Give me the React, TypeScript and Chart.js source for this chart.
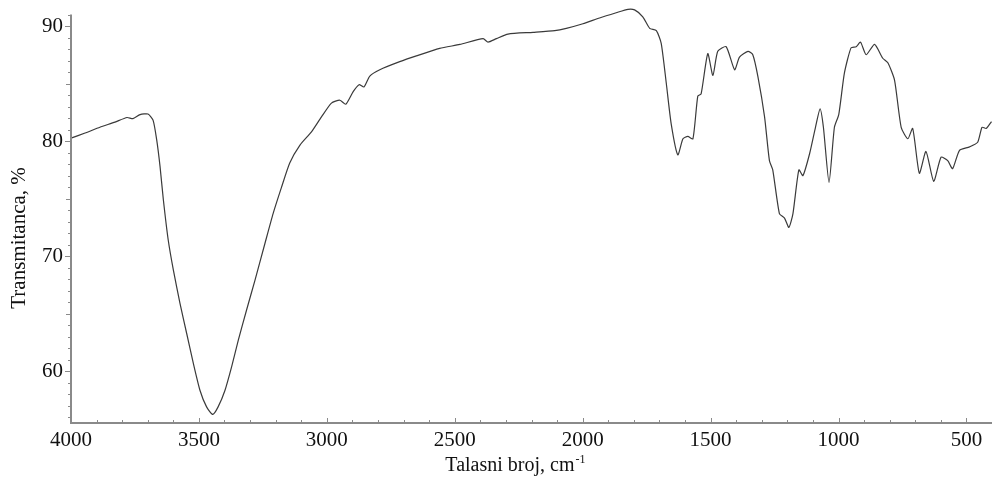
import React, { useEffect, useRef } from "react";
import { Chart, registerables } from "chart.js";

Chart.register(...registerables);

const WAVENUMBER: number[] = [
  4000, 3945, 3887, 3828, 3781, 3758, 3730, 3699, 3679, 3665, 3652, 3639, 3620, 3600, 3574, 3548,
  3522, 3496, 3470, 3446, 3425, 3398, 3372, 3346, 3314, 3281, 3242, 3210, 3177, 3145, 3105, 3060,
  3021, 2982, 2949, 2926, 2897, 2874, 2855, 2832, 2793, 2715, 2650, 2559, 2480, 2389, 2370, 2337,
  2292, 2194, 2109, 2064, 1999, 1934, 1869, 1823, 1797, 1765, 1738, 1712, 1693, 1673, 1654, 1628,
  1608, 1589, 1569, 1550, 1537, 1511, 1491, 1472, 1439, 1406, 1387, 1354, 1335, 1315, 1289, 1270,
  1257, 1231, 1211, 1194, 1178, 1155, 1139, 1113, 1090, 1072, 1059, 1037, 1016, 999, 977, 951,
  931, 914, 892, 859, 827, 807, 781, 755, 729, 710, 684, 658, 628, 599, 573, 554,
  527, 488, 456, 439, 423, 402,
];

const TRANSMITTANCE: number[] = [
  80.26, 80.7, 81.2, 81.65, 82.05, 81.95, 82.3, 82.35, 81.8, 80.1, 77.8, 74.9, 71.4, 68.8, 65.9, 63.3,
  60.7, 58.35, 56.9, 56.25, 56.9, 58.35, 60.4, 62.7, 65.3, 67.9, 71.1, 73.7, 76.0, 78.1, 79.65, 80.8,
  82.1, 83.3, 83.55, 83.2, 84.3, 84.9, 84.7, 85.65, 86.2, 86.9, 87.4, 88.05, 88.4, 88.9, 88.6, 88.9,
  89.3, 89.45, 89.6, 89.8, 90.2, 90.7, 91.15, 91.45, 91.4, 90.8, 89.8, 89.6, 88.5, 85.0, 81.5, 78.8,
  80.2, 80.4, 80.2, 83.9, 84.1, 87.6, 85.7, 87.8, 88.2, 86.2, 87.3, 87.8, 87.5, 85.6, 82.1, 78.3,
  77.5, 73.7, 73.3, 72.5, 73.7, 77.5, 77.0, 78.9, 81.2, 82.8, 81.2, 76.4, 81.2, 82.3, 85.9, 88.1,
  88.2, 88.6, 87.5, 88.4, 87.2, 86.8, 85.3, 81.2, 80.2, 81.1, 77.2, 79.1, 76.5, 78.6, 78.3, 77.6,
  79.2, 79.5, 79.9, 81.2, 81.1, 81.7,
];

const X_TICKS: number[] = [4000, 3500, 3000, 2500, 2000, 1500, 1000, 500];
const Y_TICKS: number[] = [60, 70, 80, 90];
const X_MIN = 400;
const X_MAX = 4000;
const Y_MIN = 55.5;
const Y_MAX = 91;

const X_TITLE = "Talasni broj, cm";
const X_TITLE_SUP = "-1";
const Y_TITLE = "Transmitanca, %";

const FONT = "'Liberation Serif', 'Times New Roman', serif";

const axesPlugin = {
  id: "spectrumAxes",
  afterDraw(chart: any) {
    const { ctx, chartArea, scales } = chart;
    const xs = scales.x;
    const ys = scales.y;
    ctx.save();
    ctx.strokeStyle = "#8a8a8a";
    ctx.lineWidth = 2;
    ctx.beginPath();
    ctx.moveTo(chartArea.left, chartArea.top);
    ctx.lineTo(chartArea.left, chartArea.bottom);
    ctx.lineTo(chartArea.right, chartArea.bottom);
    ctx.stroke();
    ctx.lineWidth = 1;
    ctx.strokeStyle = "#8a8a8a";
    ctx.beginPath();
    for (let v = X_MAX; v >= X_MIN; v -= 100) {
      const px = Math.round(xs.getPixelForValue(v)) + 0.5;
      const len = v % 500 === 0 ? 5 : 3;
      ctx.moveTo(px, chartArea.bottom);
      ctx.lineTo(px, chartArea.bottom - len);
    }
    for (let v = Math.ceil(Y_MIN); v <= Y_MAX; v += 1) {
      const py = Math.round(ys.getPixelForValue(v)) + 0.5;
      const len = v % 10 === 0 ? 6 : v % 5 === 0 ? 5 : 3;
      ctx.moveTo(chartArea.left, py);
      ctx.lineTo(chartArea.left - len, py);
    }
    ctx.stroke();

    ctx.fillStyle = "#111";
    ctx.textBaseline = "alphabetic";
    ctx.textAlign = "left";
    ctx.font = `20px ${FONT}`;
    const mainW = ctx.measureText(X_TITLE).width;
    ctx.font = `12px ${FONT}`;
    const supW = ctx.measureText(X_TITLE_SUP).width;
    const cx = chartArea.left + (chartArea.right - chartArea.left) * 0.482;
    const startX = cx - (mainW + supW) / 2;
    const baseY = chartArea.bottom + 48;
    ctx.font = `20px ${FONT}`;
    ctx.fillText(X_TITLE, startX, baseY);
    ctx.font = `12px ${FONT}`;
    ctx.fillText(X_TITLE_SUP, startX + mainW + 1, baseY - 8);

    ctx.font = `21px ${FONT}`;
    ctx.textAlign = "center";
    ctx.textBaseline = "middle";
    ctx.translate(19, chartArea.top + (chartArea.bottom - chartArea.top) * 0.547);
    ctx.rotate(-Math.PI / 2);
    ctx.fillText(Y_TITLE, 0, 0);
    ctx.restore();
  },
};

export default function App() {
  const canvasRef = useRef<HTMLCanvasElement | null>(null);

  useEffect(() => {
    const canvas = canvasRef.current;
    if (!canvas) return;
    const data = WAVENUMBER.map((w, i) => ({ x: w, y: TRANSMITTANCE[i] }));
    const chart = new Chart(canvas, {
      type: "line",
      data: {
        datasets: [
          {
            data,
            borderColor: "#3a3a3a",
            borderWidth: 1.2,
            pointRadius: 0,
            tension: 0.2,
            fill: false,
            clip: false as any,
          },
        ],
      },
      options: {
        animation: false,
        responsive: false,
        maintainAspectRatio: false,
        layout: { padding: { top: 14.5, right: 0, left: 0, bottom: 0 } },
        plugins: {
          legend: { display: false },
          tooltip: { enabled: false },
          title: { display: false },
        },
        scales: {
          x: {
            type: "linear",
            reverse: true,
            min: X_MIN,
            max: X_MAX,
            grid: { display: false, drawTicks: false },
            border: { display: false },
            afterBuildTicks: (scale: any) => {
              scale.ticks = X_TICKS.map((v) => ({ value: v }));
            },
            afterFit: (scale: any) => {
              scale.height = 58;
              scale.paddingLeft = 0;
              scale.paddingRight = 0;
            },
            ticks: {
              autoSkip: false,
              maxRotation: 0,
              padding: 5,
              color: "#111",
              font: { family: FONT, size: 21 },
              callback: (v: any) => String(v),
            },
          },
          y: {
            type: "linear",
            min: Y_MIN,
            max: Y_MAX,
            grid: { display: false, drawTicks: false },
            border: { display: false },
            afterBuildTicks: (scale: any) => {
              scale.ticks = Y_TICKS.map((v) => ({ value: v }));
            },
            afterFit: (scale: any) => {
              scale.width = 71;
              scale.paddingTop = 0;
              scale.paddingBottom = 0;
            },
            ticks: {
              autoSkip: false,
              padding: 8,
              color: "#111",
              font: { family: FONT, size: 21 },
              callback: (v: any) => String(v),
            },
          },
        },
      },
      plugins: [axesPlugin],
    });
    return () => chart.destroy();
  }, []);

  return (
    <canvas
      ref={canvasRef}
      width={992}
      height={481}
      style={{ position: "absolute", left: 0, top: 0, width: 992, height: 481, display: "block" }}
    />
  );
}
